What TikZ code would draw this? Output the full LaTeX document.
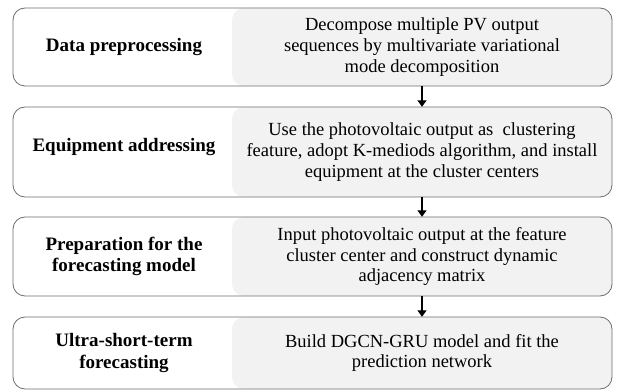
\documentclass[tikz,border=0pt]{standalone}
\usepackage{fontspec}
\setmainfont{Liberation Serif}
\usetikzlibrary{arrows.meta}
\definecolor{edge}{HTML}{6E6E6E}
\definecolor{panel}{HTML}{F2F2F2}
\tikzset{
  panelbox/.style={fill=panel, rounded corners=12pt, minimum width=380pt, inner sep=0pt,
    align=center, font=\fontsize{18.5}{20.6}\selectfont},
  stagebox/.style={draw=edge, line width=0.8pt, rounded corners=12pt, minimum width=599pt, inner sep=0pt},
  stagelabel/.style={align=center, font=\fontsize{19}{21.5}\selectfont\bfseries},
  flow/.style={line width=1.2pt, -{Triangle[width=9pt,length=6.5pt]}}
}
\begin{document}
\begin{tikzpicture}[x=1pt,y=-1pt]
\fill[white] (0,0) rectangle (619,390);
\useasboundingbox (0,0) rectangle (619,390);

% right-hand panels with the step descriptions
\node[panelbox, minimum height=78pt] (p1) at (422,47)
  {Decompose multiple PV output\\sequences by multivariate variational\\mode decomposition};
\node[panelbox, minimum height=90pt] (p2) at (422,152)
  {Use the photovoltaic output as\ \ clustering\\feature, adopt K-mediods algorithm, and install\\equipment at the cluster centers};
\node[panelbox, minimum height=79pt] (p3) at (422,256.5)
  {Input photovoltaic output at the feature\\cluster center and construct dynamic\\adjacency matrix};
\node[panelbox, minimum height=72pt] (p4) at (422,353)
  {Build DGCN-GRU model and fit the\\prediction network};

% outer frames of the four stages
\node[stagebox, minimum height=78pt] (s1) at (312.5,47) {};
\node[stagebox, minimum height=90pt] (s2) at (312.5,152) {};
\node[stagebox, minimum height=79pt] (s3) at (312.5,256.5) {};
\node[stagebox, minimum height=72pt] (s4) at (312.5,353) {};

% stage titles
\node[stagelabel] (l1) at (124,47) {Data preprocessing};
\node[stagelabel] (l2) at (124,147) {Equipment addressing};
\node[stagelabel] (l3) at (124,256.5) {Preparation for the\\forecasting model};
\node[stagelabel] (l4) at (124,353) {Ultra-short-term\\forecasting};

% flow between stages
\draw[flow] (p1.south) -- (p2.north);
\draw[flow] (p2.south) -- (p3.north);
\draw[flow] (p3.south) -- (p4.north);
\end{tikzpicture}
\end{document}
